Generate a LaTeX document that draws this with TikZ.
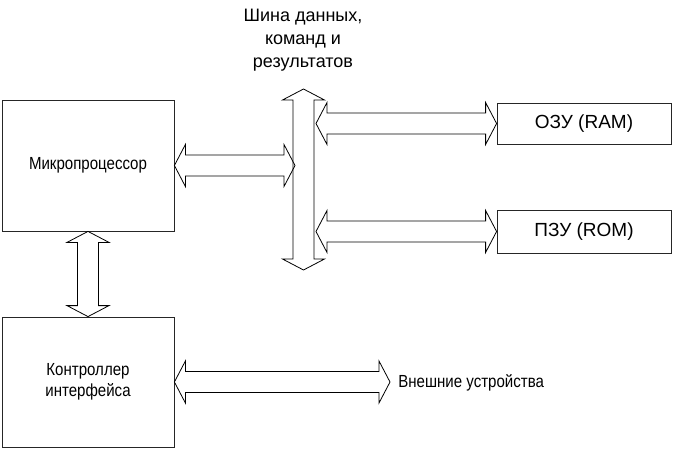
\documentclass[tikz,border=0pt]{standalone}
\usepackage{fontspec}
\setmainfont{Liberation Sans}
\newfontfamily\narrowfont{Liberation Sans}[FakeStretch=0.86]
\usetikzlibrary{positioning,calc}

\begin{document}
\begin{tikzpicture}[
    x=1pt, y=-1pt,
    font=\fontsize{19}{23}\selectfont,
    line width=0.8pt,
    block/.style={
		rectangle,
		draw=black!85,
		text centered,
		inner sep=0pt
	},
	narrow/.style={
		font=\narrowfont\fontsize{17.5}{21}\selectfont
	},
	caption/.style={
		align=center,
		inner sep=0pt
	},
	hfat/.style={
		draw=black!85,
		to path={let \p1=(\tikztostart), \p2=(\tikztotarget) in
		(\x1,\y1) -- (\x1+11pt,\y1+21pt) -- (\x1+11pt,\y1+10.5pt) -- (\x2-11pt,\y1+10.5pt)
		-- (\x2-11pt,\y1+21pt) -- (\x2,\y1) -- (\x2-11pt,\y1-21pt) -- (\x2-11pt,\y1-10.5pt)
		-- (\x1+11pt,\y1-10.5pt) -- (\x1+11pt,\y1-21pt) -- cycle}
	},
	vfat/.style={
		draw=black!85,
		to path={let \p1=(\tikztostart), \p2=(\tikztotarget) in
		(\x1,\y1) -- (\x1+21pt,\y1-11pt) -- (\x1+10.5pt,\y1-11pt) -- (\x1+10.5pt,\y2+11pt)
		-- (\x1+21pt,\y2+11pt) -- (\x1,\y2) -- (\x1-21pt,\y2+11pt) -- (\x1-10.5pt,\y2+11pt)
		-- (\x1-10.5pt,\y1-11pt) -- (\x1-21pt,\y1-11pt) -- cycle}
	}
  ]
  \useasboundingbox (0,0) rectangle (673,450);

    % We start by placing the blocks
  \node [block, narrow, minimum width=172pt, minimum height=131pt] (cpu) at (88,165.5)
 {Микропроцессор};

  \node [block, narrow, align=center, minimum width=172pt, minimum height=130pt] (ctrl) at (88,382)
 {Контроллер\\ интерфейса};

  \node [block, minimum width=174pt, minimum height=41pt] (ram) at (584,123.5) {ОЗУ (RAM)};
  \node [block, minimum width=174pt, minimum height=43pt] (rom) at (584,231.5) {ПЗУ (ROM)};

  % the bus and its caption
  \coordinate (bustop) at (303.5,89);
  \coordinate (busbot) at (303.5,270);
  \coordinate (busin) at (295,0);
  \coordinate (busout) at (316,0);
  \node [caption, font=\fontsize{18}{23}\selectfont] (buscap) at (303,40)
 {Шина данных,\\ команд и\\ результатов};

  \node [caption, narrow, anchor=west, inner xsep=8pt] (ext) at (390,383)
 {Внешние устройства};

  \draw (bustop) to[vfat] (busbot);
  \draw (cpu.east) to[hfat] (cpu.east -| busin);
  \draw (ram.west -| busout) to[hfat] (ram.west);
  \draw (rom.west -| busout) to[hfat] (rom.west);
  \draw (cpu.south) to[vfat] (ctrl.north);
  \draw (ctrl.east) to[hfat] (ext.west);

\end{tikzpicture}
\end{document}
